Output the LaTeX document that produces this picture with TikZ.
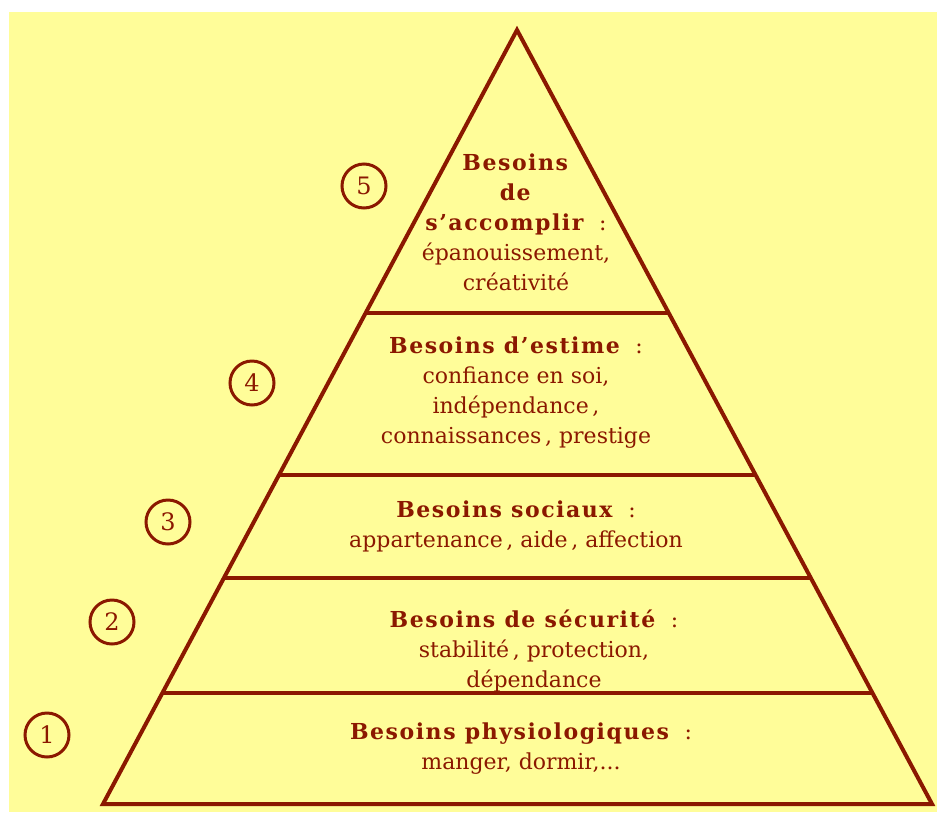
\documentclass[tikz,border=0pt]{standalone}
\usepackage{fontspec}
\setmainfont{DejaVu Serif}[BoldFeatures={LetterSpace=7}]
\usetikzlibrary{calc}
\definecolor{pyrred}{RGB}{139,24,0}
\definecolor{pyrbg}{RGB}{255,253,153}
\begin{document}
\begin{tikzpicture}[x=1pt,y=-1pt,
  lvl/.style={align=center, inner sep=0, anchor=north, text=pyrred,
    font=\fontsize{22}{30}\selectfont},
  numc/.style={circle, draw=pyrred, line width=3pt, minimum size=44pt,
    inner sep=0, text=pyrred, font=\fontsize{24}{26}\selectfont},
  pyr/.style={draw=pyrred, line width=4pt, line join=miter}]
\useasboundingbox (0,0) rectangle (937,812);
\fill[pyrbg] (9,12) rectangle (937,812);
% pyramid outline
\coordinate (apex) at (517,30);
\coordinate (bl) at (103,804);
\coordinate (br) at (932,804);
\draw[pyr] (bl) -- (apex) -- (br) -- cycle;
% level separators
\foreach \yy in {313,475,578,693}{
  \draw[pyr] ($(apex)!{(\yy-30)/774}!(bl)$) -- ($(apex)!{(\yy-30)/774}!(br)$);
}
% texts
\node[lvl] (t5) at (516,149) {\strut\textbf{Besoins}\\\strut\textbf{de}\\\strut\textbf{s’accomplir}\ \ :\\\strut épanouissement,\\\strut créativité};
\node[lvl] (t4) at (516,332) {\strut\textbf{Besoins d’estime}\ \ :\\\strut confiance en soi,\\\strut indépendance\,,\\\strut connaissances\,, prestige};
\node[lvl] (t3) at (516,496) {\strut\textbf{Besoins sociaux}\ \ :\\\strut appartenance\,, aide\,, affection};
\node[lvl] (t2) at (534,606) {\strut\textbf{Besoins de sécurité}\ \ :\\\strut stabilité\,, protection,\\\strut dépendance};
\node[lvl] (t1) at (521,718) {\strut\textbf{Besoins physiologiques}\ \ :\\\strut manger, dormir,...};
% numbers
\node[numc] (n1) at (47,735) {1};
\node[numc] (n2) at (112,622) {2};
\node[numc] (n3) at (168,522) {3};
\node[numc] (n4) at (252,383) {4};
\node[numc] (n5) at (364,186) {5};
\end{tikzpicture}
\end{document}
